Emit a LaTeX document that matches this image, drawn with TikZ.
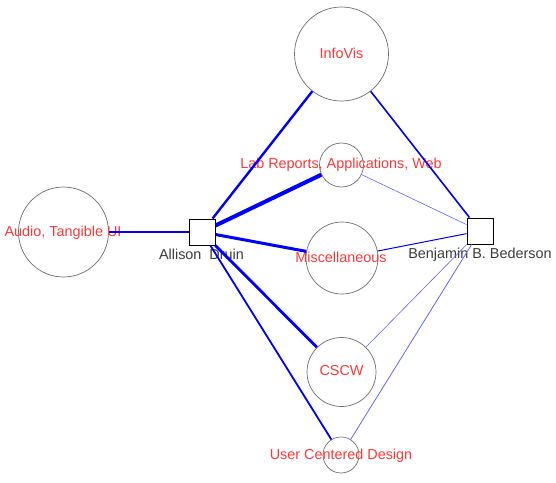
\documentclass[tikz,border=0pt]{standalone}
\usepackage{fontspec}
\setmainfont{Liberation Sans}
\definecolor{labelred}{RGB}{255,55,55}
\definecolor{namegray}{RGB}{60,60,60}
\definecolor{circgray}{RGB}{110,110,110}
\definecolor{edgeblue}{RGB}{0,0,255}
\definecolor{lightblue}{RGB}{100,100,255}
\tikzset{
  topic/.style={circle, draw=circgray, line width=0.7pt, inner sep=0pt, minimum size=#1},
  person/.style={rectangle, draw=black, line width=1pt, inner sep=0pt, minimum size=26pt},
  toplabel/.style={text=labelred, anchor=base, inner sep=0pt, font=\fontsize{14.4}{16}\selectfont},
  namelabel/.style={text=namegray, anchor=base, inner sep=0pt, font=\fontsize{14.4}{16}\selectfont},
  link/.style={draw=edgeblue, line width=#1},
  thinlink/.style={draw=lightblue, line width=#1}
}
\begin{document}
\begin{tikzpicture}[x=1pt,y=-1pt]
\useasboundingbox (0,0) rectangle (556,482);
% topic circles
\node[topic=94pt] (infovis) at (341.5,54) {};
\node[topic=44pt] (lab) at (341.5,165) {};
\node[topic=72pt] (misc) at (342,258) {};
\node[topic=69pt] (cscw) at (341.5,372) {};
\node[topic=36pt] (ucd) at (341,455) {};
\node[topic=90pt] (audio) at (63.5,232) {};
% people
\node[person] (allison) at (202,232) {};
\node[person] (ben) at (480,231) {};
% labels
\node[toplabel] (linfovis) at (341.5,58.7) {InfoVis};
\node[toplabel] (llab) at (341,168.3) {Lab Reports, Applications, Web};
\node[toplabel] (lmisc) at (341,262.7) {Miscellaneous};
\node[toplabel] (lcscw) at (341.5,375) {CSCW};
\node[toplabel] (lucd) at (341,459.3) {User Centered Design};
\node[toplabel] (laudio) at (63,236.7) {Audio, Tangible UI};
\node[namelabel] (lallison) at (201.5,259) {Allison\ \ Druin};
\node[namelabel] (lben) at (480,258.3) {Benjamin B. Bederson};
% edges from Allison Druin
\draw[link=2pt] (allison) -- (audio);
\draw[link=2.4pt] (allison) -- (infovis);
\draw[link=4pt] (allison) -- (lab);
\draw[link=3pt] (allison) -- (misc);
\draw[link=2.8pt] (allison) -- (cscw);
\draw[link=1.8pt] (allison) -- (ucd);
% edges from Benjamin B. Bederson
\draw[link=1.6pt] (ben) -- (infovis);
\draw[thinlink=0.6pt] (ben) -- (lab);
\draw[link=1pt] (ben) -- (misc);
\draw[thinlink=0.6pt] (ben) -- (cscw);
\draw[thinlink=0.8pt] (ben) -- (ucd);
\end{tikzpicture}
\end{document}
